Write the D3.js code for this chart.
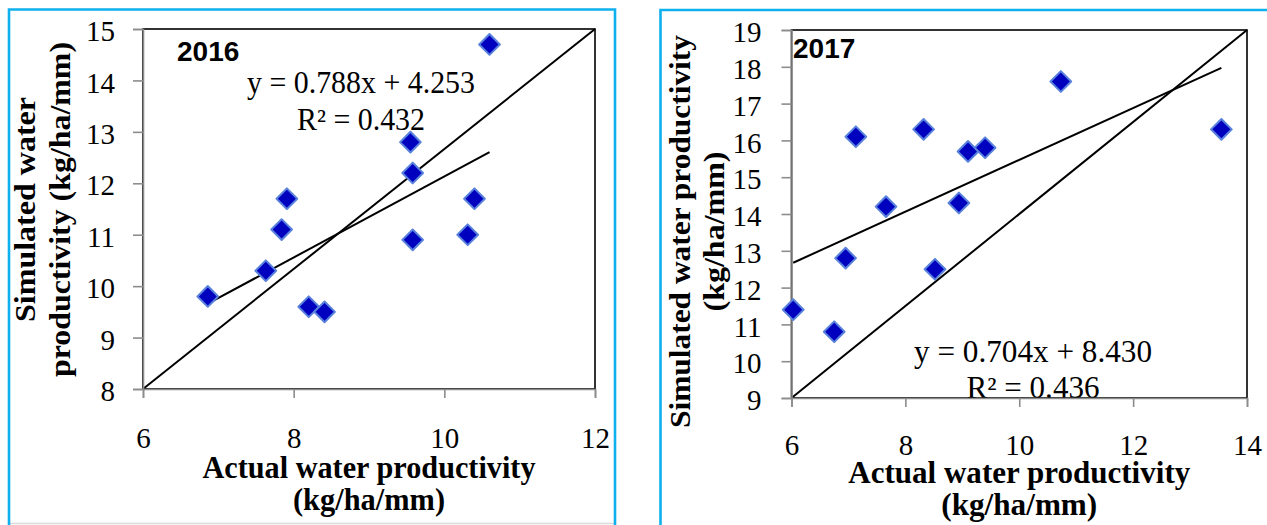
<!DOCTYPE html>
<html>
<head>
<meta charset="utf-8">
<script src="https://cdn.jsdelivr.net/npm/d3@7"></script>
<style>
  html, body { margin: 0; padding: 0; background: #ffffff; }
  svg { display: block; }
</style>
</head>
<body>
<svg id="chart" width="1267" height="525"></svg>
<script>
// Water productivity: actual vs simulated (kg/ha/mm)
const years = ["2016", "2017"];

const actual2016    = [6.86, 7.63, 7.84, 7.91, 8.20, 8.41, 9.55, 9.58, 9.58, 10.31, 10.40, 10.60];
const simulated2016 = [9.8, 10.3, 11.1, 11.7, 9.6, 9.5, 12.8, 12.2, 10.9, 11.0, 11.7, 14.7];

const actual2017    = [6.03, 6.75, 6.95, 7.13, 7.66, 8.32, 8.52, 8.94, 9.10, 9.40, 10.73, 13.55];
const simulated2017 = [11.4, 10.8, 12.8, 16.1, 14.2, 16.3, 12.5, 14.3, 15.7, 15.8, 17.6, 16.3];

// Linear trend for each year
const slopes     = [0.788, 0.704];
const intercepts = [4.253, 8.430];
const rSquared   = [0.432, 0.436];

// Axis ranges and tick labels
const xDomains = [[6, 12], [6, 14]];
const yDomains = [[8, 15], [9, 19]];
const xTicks2016 = [6, 8, 10, 12];
const yTicks2016 = [8, 9, 10, 11, 12, 13, 14, 15];
const xTicks2017 = [6, 8, 10, 12, 14];
const yTicks2017 = [9, 10, 11, 12, 13, 14, 15, 16, 17, 18, 19];

const xTitle = ["Actual water productivity", "(kg/ha/mm)"];

const svg = d3.select("#chart");
const serif = '"Liberation Serif", "Times New Roman", serif';
const sans = '"Liberation Sans", Arial, sans-serif';
const tickFont = 29;

const panels = [
  {
    year: years[0], xs: actual2016, ys: simulated2016, k: 0,
    xTicks: xTicks2016, yTicks: yTicks2016,
    frame: {x0: 9, y0: 9.5, x1: 615},
    plot: {left: 143, right: 595, top: 29, bottom: 389},
    yPad: 18, xPad: 29,
    yTitleLines: [
      {text: "Simulated water", x: 35, len: 225},
      {text: "productivity (kg/ha/mm)", x: 70, len: 335}
    ],
    yTitleCenter: 209.5,
    xTitleLines: [{y: 478, len: 333}, {y: 510, len: 152}],
    yearPos: {x: 177, y: 61},
    eq: {x: 361, y1: 93, y2: 130, len1: 228, len2: 128},
    bottomRule: true
  },
  {
    year: years[1], xs: actual2017, ys: simulated2017, k: 1,
    xTicks: xTicks2017, yTicks: yTicks2017,
    frame: {x0: 660.5, y0: 10, x1: 1275},
    plot: {left: 791.5, right: 1247, top: 30, bottom: 398},
    yPad: 20, xPad: 27,
    yTitleLines: [
      {text: "Simulated water  productivity", x: 690, len: 393},
      {text: "(kg/ha/mm)", x: 724, len: 160}
    ],
    yTitleCenter: 231.5,
    xTitleLines: [{y: 483, len: 342}, {y: 515, len: 156}],
    yearPos: {x: 793, y: 58},
    eq: {x: 1033, y1: 362, y2: 398, len1: 238, len2: 133},
    bottomRule: false
  }
];

panels.forEach(p => {
  const g = svg.append("g");
  const k = p.k;

  // Outer frame of the panel
  if (p.bottomRule) {
    g.append("line")
      .attr("x1", p.frame.x0).attr("x2", p.frame.x1)
      .attr("y1", 523.5).attr("y2", 523.5)
      .attr("stroke", "#d9d9d9").attr("stroke-width", 1.5);
  }
  g.append("path")
    .attr("d", `M${p.frame.x0},530 V${p.frame.y0} H${p.frame.x1} V530`)
    .attr("fill", "none")
    .attr("stroke", "#0fb0ee")
    .attr("stroke-width", 2.6);

  const x = d3.scaleLinear().domain(xDomains[k]).range([p.plot.left, p.plot.right]);
  const y = d3.scaleLinear().domain(yDomains[k]).range([p.plot.bottom, p.plot.top]);

  // Plot area border
  g.append("rect")
    .attr("x", p.plot.left).attr("y", p.plot.top)
    .attr("width", p.plot.right - p.plot.left)
    .attr("height", p.plot.bottom - p.plot.top)
    .attr("fill", "none").attr("stroke", "#000").attr("stroke-width", 1.6);

  // Corner-to-corner reference line
  const xd = xDomains[k], yd = yDomains[k];
  g.append("line")
    .attr("x1", x(xd[0])).attr("y1", y(yd[0]))
    .attr("x2", x(xd[1])).attr("y2", y(yd[1]))
    .attr("stroke", "#000").attr("stroke-width", 2);

  // Trend line across the observed range
  const xMin = d3.min(p.xs), xMax = d3.max(p.xs);
  g.append("line")
    .attr("x1", x(xMin)).attr("y1", y(slopes[k] * xMin + intercepts[k]))
    .attr("x2", x(xMax)).attr("y2", y(slopes[k] * xMax + intercepts[k]))
    .attr("stroke", "#000").attr("stroke-width", 2);

  // Trend equation and R²
  g.append("text")
    .attr("x", p.eq.x).attr("y", p.eq.y1)
    .attr("text-anchor", "middle")
    .attr("font-family", serif).attr("font-size", 31)
    .attr("textLength", p.eq.len1).attr("lengthAdjust", "spacingAndGlyphs")
    .text(`y = ${slopes[k].toFixed(3)}x + ${intercepts[k].toFixed(3)}`);
  g.append("text")
    .attr("x", p.eq.x).attr("y", p.eq.y2)
    .attr("text-anchor", "middle")
    .attr("font-family", serif).attr("font-size", 31)
    .attr("textLength", p.eq.len2).attr("lengthAdjust", "spacingAndGlyphs")
    .text(`R² = ${rSquared[k].toFixed(3)}`);

  // Axes
  const yAxis = g.append("g")
    .attr("transform", `translate(${p.plot.left},0)`)
    .call(d3.axisLeft(y).tickValues(p.yTicks).tickSize(10).tickPadding(p.yPad).tickFormat(d3.format("d")));
  const xAxis = g.append("g")
    .attr("transform", `translate(0,${p.plot.bottom})`)
    .call(d3.axisBottom(x).tickValues(p.xTicks).tickSize(9).tickPadding(p.xPad).tickFormat(d3.format("d")));
  [xAxis, yAxis].forEach(a => {
    a.attr("font-family", serif).attr("font-size", tickFont);
    a.select(".domain").attr("stroke", "#8c8c8c").attr("stroke-width", 1.6);
    a.selectAll(".tick line").attr("stroke", "#8c8c8c").attr("stroke-width", 1.6);
    a.selectAll(".tick text")
      .style("font-family", serif).style("font-size", tickFont + "px").attr("fill", "#000");
  });
  yAxis.selectAll(".tick text").attr("dy", "0.40em");

  // Diamond markers
  const diamond = d3.symbol().type(d3.symbolSquare).size(215);
  g.selectAll("path.pt")
    .data(p.xs.map((v, i) => [v, p.ys[i]]))
    .join("path")
    .attr("class", "pt")
    .attr("d", diamond)
    .attr("transform", d => `translate(${x(d[0])},${y(d[1])}) rotate(45)`)
    .attr("fill", "#0000bf")
    .attr("stroke", "#5a82dc")
    .attr("stroke-width", 2)
    .attr("stroke-linejoin", "round");

  // Year label
  g.append("text")
    .attr("x", p.yearPos.x).attr("y", p.yearPos.y)
    .attr("font-family", sans).attr("font-weight", "bold").attr("font-size", 28)
    .text(p.year);

  // Axis titles
  const cx = (p.plot.left + p.plot.right) / 2;
  xTitle.forEach((t, i) => {
    g.append("text")
      .attr("x", cx).attr("y", p.xTitleLines[i].y)
      .attr("text-anchor", "middle")
      .attr("font-family", serif).attr("font-weight", "bold").attr("font-size", 31)
      .attr("textLength", p.xTitleLines[i].len).attr("lengthAdjust", "spacingAndGlyphs")
      .text(t);
  });
  p.yTitleLines.forEach(l => {
    g.append("text")
      .attr("transform", `translate(${l.x},${p.yTitleCenter}) rotate(-90)`)
      .attr("text-anchor", "middle")
      .attr("font-family", serif).attr("font-weight", "bold").attr("font-size", 30)
      .attr("textLength", l.len).attr("lengthAdjust", "spacingAndGlyphs")
      .text(l.text);
  });
});
</script>
</body>
</html>
